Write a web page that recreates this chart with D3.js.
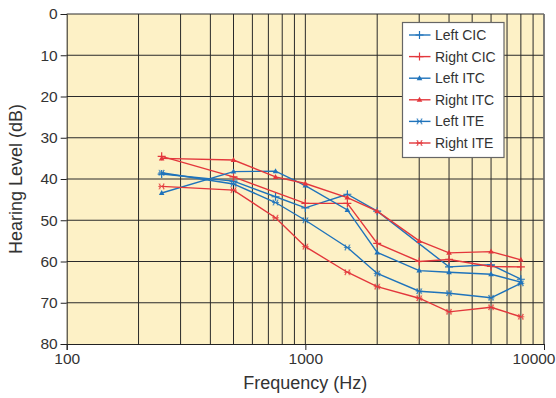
<!DOCTYPE html>
<html>
<head>
<meta charset="utf-8">
<script src="https://cdn.jsdelivr.net/npm/d3@7/dist/d3.min.js"></script>
<style>
    body { margin: 0; background: #fff; }
    svg { display: block; font-family: "Liberation Sans", Arial, sans-serif; }
</style>
</head>
<body>
<svg id="chart" width="556" height="398"></svg>
<script>
var freqs = [250, 500, 750, 1000, 1500, 2000, 3000, 4000, 6000, 8000];

// hearing level (dB), null = not measured
var leftCIC  = [38.8, 40.5, 44.3, 47.0, 43.7, 47.8, null, 61.3, 60.8, 64.3];
var rightCIC = [34.5, 39.5, null, 45.9, 45.9, 55.6, 60.0, 59.5, 61.2, 61.3];
var leftITC  = [43.4, 38.2, 38.1, 41.6, 47.5, 57.8, 62.2, 62.6, 63.1, 65.0];
var rightITC = [35.0, 35.4, 39.5, 41.1, 44.5, 47.8, 55.0, 57.9, 57.6, 59.6];
var leftITE  = [38.5, 41.2, 45.7, 50.0, 56.6, 62.9, 67.2, 67.7, 68.8, 65.3];
var rightITE = [41.8, 42.7, 49.4, 56.4, 62.6, 66.1, 68.9, 72.2, 71.1, 73.4];

var seriesNames = ["Left CIC", "Right CIC", "Left ITC", "Right ITC", "Left ITE", "Right ITE"];
var seriesValues = [leftCIC, rightCIC, leftITC, rightITC, leftITE, rightITE];

var xTicks = [100, 1000, 10000];
var yTicks = [0, 10, 20, 30, 40, 50, 60, 70, 80];

var blue = "#1f73bb", red = "#e3373c";

var margin = {left: 66.7, right: 12, top: 14, bottom: 54};
var width = 556 - margin.left - margin.right;
var height = 398 - margin.top - margin.bottom;

var svg = d3.select("#chart");
var g = svg.append("g")
    .attr("transform", "translate(" + margin.left + "," + margin.top + ")");

var x = d3.scaleLog().domain([100, 10000]).range([0, width]);
var y = d3.scaleLinear().domain([0, 80]).range([0, height]);

g.append("rect")
    .attr("width", width)
    .attr("height", height)
    .attr("fill", "#fdf1c6");

// grid
var vGrid = [];
[100, 1000].forEach(function (dec) {
    for (var k = 2; k <= 10; k++) vGrid.push(dec * k);
});
g.selectAll("line.vgrid")
    .data(vGrid).enter()
    .append("line")
    .attr("class", "vgrid")
    .attr("x1", function (d) { return x(d); })
    .attr("x2", function (d) { return x(d); })
    .attr("y1", 0)
    .attr("y2", height)
    .attr("stroke", "#2a2a2a")
    .attr("stroke-width", 1);

g.selectAll("line.hgrid")
    .data(yTicks.slice(0, -1)).enter()
    .append("line")
    .attr("class", "hgrid")
    .attr("x1", 0)
    .attr("x2", width)
    .attr("y1", function (d) { return y(d); })
    .attr("y2", function (d) { return y(d); })
    .attr("stroke", "#2a2a2a")
    .attr("stroke-width", 1);

// axes
var yAxis = d3.axisLeft(y).tickValues(yTicks).tickSize(6).tickPadding(3);
var xAxis = d3.axisBottom(x).tickValues(xTicks).tickSize(6).tickPadding(3)
    .tickFormat(d3.format("d"));

var ya = g.append("g").call(yAxis);
var xa = g.append("g").attr("transform", "translate(0," + height + ")").call(xAxis);

[ya, xa].forEach(function (a) {
    a.select(".domain").attr("stroke", "#222");
    a.selectAll(".tick line").attr("stroke", "#222");
    a.selectAll(".tick text")
        .attr("fill", "#333")
        .style("font-size", "15.5px")
        .style("font-family", "'Liberation Sans', Arial, sans-serif");
});
xa.selectAll(".tick text")
    .filter(function (d) { return d === 10000; })
    .attr("text-anchor", "end")
    .attr("x", 556 - margin.left - width - 1);

g.append("line")
    .attr("x1", width).attr("x2", width)
    .attr("y1", 0).attr("y2", height)
    .attr("stroke", "#777").attr("stroke-width", 1.5);

// titles
svg.append("text")
    .attr("x", margin.left + x(1000))
    .attr("y", 389)
    .attr("text-anchor", "middle")
    .attr("fill", "#333")
    .style("font-size", "18px")
    .text("Frequency (Hz)");

svg.append("text")
    .attr("transform", "translate(22," + (margin.top + height / 2) + ") rotate(-90)")
    .attr("text-anchor", "middle")
    .attr("fill", "#333")
    .style("font-size", "18px")
    .text("Hearing Level (dB)");

// series
var series = seriesNames.map(function (name, i) {
    var pts = [];
    seriesValues[i].forEach(function (v, j) {
        if (v !== null) pts.push({f: freqs[j], v: v});
    });
    return {
        name: name,
        color: name.indexOf("Left") === 0 ? blue : red,
        marker: name.slice(-3),
        points: pts
    };
});

var line = d3.line()
    .x(function (d) { return x(d.f); })
    .y(function (d) { return y(d.v); });

function drawMarker(sel, kind, color) {
    if (kind === "CIC") {
        sel.append("path")
            .attr("d", "M-4,0H4M0,-4V4")
            .attr("stroke", color).attr("stroke-width", 1.2).attr("fill", "none");
    } else if (kind === "ITC") {
        sel.append("path")
            .attr("d", "M0,-3L2.8,2L-2.8,2Z")
            .attr("fill", color);
    } else {
        sel.append("path")
            .attr("d", "M-3.5,0H3.5M-1.8,-3V3M1.8,-3V3M-3,-2.5L3,2.5M-3,2.5L3,-2.5")
            .attr("stroke", color).attr("stroke-width", 1)
            .attr("opacity", 0.7).attr("fill", "none");
    }
}

series.forEach(function (s) {
    g.append("path")
        .datum(s.points)
        .attr("d", line)
        .attr("fill", "none")
        .attr("stroke", s.color)
        .attr("stroke-width", 1.4);

    g.selectAll(null)
        .data(s.points).enter()
        .append("g")
        .attr("transform", function (d) {
            return "translate(" + x(d.f) + "," + y(d.v) + ")";
        })
        .each(function () {
            drawMarker(d3.select(this), s.marker, s.color);
        });
});

// legend
var legend = svg.append("g").attr("transform", "translate(402.5,22.5)");
legend.append("rect")
    .attr("width", 101.5)
    .attr("height", 135)
    .attr("fill", "#fff")
    .attr("stroke", "#666")
    .attr("stroke-width", 1.2);

var item = legend.selectAll("g.item")
    .data(series).enter()
    .append("g")
    .attr("class", "item")
    .attr("transform", function (d, i) {
        return "translate(0," + (12.5 + i * 21.6) + ")";
    });

item.append("line")
    .attr("x1", 6.5).attr("x2", 28)
    .attr("stroke", function (d) { return d.color; })
    .attr("stroke-width", 1.4);

item.each(function (d) {
    var m = d3.select(this).append("g").attr("transform", "translate(17,0)");
    drawMarker(m, d.marker, d.color);
});

item.append("text")
    .attr("x", 32.5)
    .attr("dy", "0.35em")
    .attr("fill", "#333")
    .style("font-size", "14px")
    .text(function (d) { return d.name; });
</script>
</body>
</html>
